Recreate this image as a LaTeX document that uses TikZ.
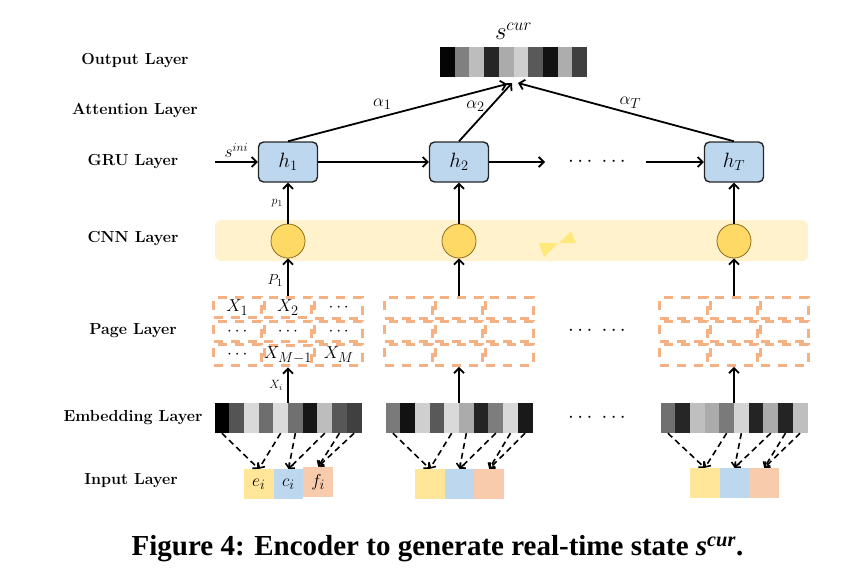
\documentclass[tikz,border=0pt]{standalone}
\usepackage{fontspec}
\newfontfamily\capfont{Liberation Serif}
\usetikzlibrary{matrix,arrows.meta,positioning}
\definecolor{gruBlue}{HTML}{BDD7EE}
\definecolor{cnnBand}{HTML}{FFF2CC}
\definecolor{cnnDot}{HTML}{FFD966}
\definecolor{cnnEdge}{HTML}{8C6D1F}
\definecolor{pageDash}{HTML}{F4B183}
\definecolor{inYellow}{HTML}{FFE699}
\definecolor{inOrange}{HTML}{F8CBAD}
\definecolor{spark}{HTML}{FFE97A}
\tikzset{
	layer/.style = { font=\fontsize{16}{19}\selectfont\bfseries },
	hbox/.style = { draw=black!85, line width=1.4pt, fill=gruBlue, rounded corners=5pt, minimum width=59pt, minimum height=40pt, font=\fontsize{20}{24}\selectfont },
	cnn/.style = { circle, draw=cnnEdge, line width=0.8pt, fill=cnnDot, minimum size=34pt, inner sep=0pt },
	cell/.style = { draw=pageDash, line width=3pt, dash pattern=on 9pt off 8pt, minimum width=47.5pt, minimum height=20.5pt, inner sep=0pt, font=\fontsize{19}{22}\selectfont },
	bar/.style = { minimum width=14.7pt, minimum height=30pt, inner sep=0pt },
	inbox/.style = { minimum width=29.7pt, minimum height=30pt, inner sep=0pt, font=\fontsize{19}{22}\selectfont },
	arrow/.style = { line width=1.8pt, color=black, ->, >={Straight Barb[length=5pt,width=10pt]} },
	link/.style = { line width=1.6pt, ->, >={Straight Barb[length=4pt,width=8pt]}, dash pattern=on 6pt off 4pt },
	lbl/.style = { font=\fontsize{19}{22}\selectfont },
	sml/.style = { font=\fontsize{13}{15}\selectfont },
	dots/.style = { font=\fontsize{21}{24}\selectfont },
}

\begin{document}
\begin{tikzpicture}[x=1pt,y=-1pt]
\useasboundingbox (0,0) rectangle (849,573);

% layer names
\node[layer] (lOut) at (135,61) {Output Layer};
\node[layer] (lAtt) at (135,110) {Attention Layer};
\node[layer] (lGru) at (133,162) {GRU Layer};
\node[layer] (lCnn) at (133,239) {CNN Layer};
\node[layer] (lPage) at (133,331) {Page Layer};
\node[layer] (lEmb) at (133,418) {Embedding Layer};
\node[layer] (lIn) at (131,481) {Input Layer};

% output
\matrix (out)
[
matrix of nodes,
nodes           = { bar },
column sep      = 0pt,
inner sep       = 0pt,
] at (513.5,62)
{
	|[fill=black!98]| & |[fill=black!50]| & |[fill=black!26]| & |[fill=black!85]| & |[fill=black!33]| & |[fill=black!19]| & |[fill=black!65]| & |[fill=black!93]| & |[fill=black!32]| & |[fill=black!75]| \\
};
\node[above=4pt of out, font=\fontsize{26}{30}\selectfont] (scur) {$s^{cur}$};

% GRU
\node[hbox] (h1) at (288,162) {$h_1$};
\node[hbox] (h2) at (459,162) {$h_2$};
\node[hbox] (hT) at (734,162) {$h_T$};
\node[dots] (gdots) at (597,162) {$\cdots\;\cdots$};
\coordinate (gin) at (215,162);
\coordinate (gout) at (545,162);
\coordinate (gback) at (646,162);
\draw[arrow] (gin) -- node[above, font=\fontsize{17}{20}\selectfont] {$s^{ini}$} (h1);
\draw[arrow] (h1) -- (h2);
\draw[arrow] (h2) -- (gout);
\draw[arrow] (gback) -- (hT);

% attention
\coordinate (att1) at (507,84);
\coordinate (att2) at (512,83);
\coordinate (attT) at (518,83);
\draw[arrow] (h1.north) -- node[pos=0.43, above=3pt, lbl] {$\alpha_1$} (att1);
\draw[arrow] (h2.north) -- node[pos=0.6, left=2pt, lbl] {$\alpha_2$} (att2);
\draw[arrow] (hT.north) -- node[pos=0.48, above=1pt, lbl] {$\alpha_T$} (attT);

% CNN
\node[fill=cnnBand, rounded corners=6pt, minimum width=593pt, minimum height=41pt] (band) at (511.5,240.5) {};
\node[cnn] (c1) at (288,241) {};
\node[cnn] (c2) at (459,241) {};
\node[cnn] (c3) at (734,241) {};
\fill[spark] (539,243) -- (558,243) -- (544,257) -- cycle;
\fill[spark] (559,243) -- (571,231) -- (576,243) -- cycle;
\draw[arrow] (c1) -- node[left=1pt, sml] {$p_1$} (h1);
\draw[arrow] (c2) -- (h2);
\draw[arrow] (c3) -- (hT);

% page
\matrix (pg1)
[
matrix of math nodes,
nodes           = { cell },
nodes in empty cells,
column sep      = 0pt,
row sep         = 0pt,
inner sep       = 0pt,
] at (288,331.5)
{
	X_1 & X_2 & \cdots \\
	\cdots & \cdots & \cdots \\
	\cdots & X_{M-1} & X_M \\
};
\matrix (pg2)
[
matrix of math nodes,
nodes           = { cell },
nodes in empty cells,
column sep      = 0pt,
row sep         = 0pt,
inner sep       = 0pt,
] at (459,331.5)
{
	& & \\
	& & \\
	& & \\
};
\matrix (pg3)
[
matrix of math nodes,
nodes           = { cell },
nodes in empty cells,
column sep      = 0pt,
row sep         = 0pt,
inner sep       = 0pt,
] at (734,331.5)
{
	& & \\
	& & \\
	& & \\
};
\node[dots] (pdots) at (597,331) {$\cdots\;\cdots$};
\draw[arrow] (pg1) -- node[pos=0.4, left=1pt, font=\fontsize{15}{18}\selectfont] {$P_1$} (c1);
\draw[arrow] (pg2) -- (c2);
\draw[arrow] (pg3) -- (c3);

% embedding
\matrix (emb1)
[
matrix of nodes,
nodes           = { bar },
nodes in empty cells,
column sep      = 0pt,
inner sep       = 0pt,
] at (288,418)
{
	|[fill=black]| & |[fill=black!67]| & |[fill=black!15]| & |[fill=black!57]| & |[fill=black!14]| & |[fill=black!56]| & |[fill=black!91]| & |[fill=black!26]| & |[fill=black!66]| & |[fill=black!75]| \\
};
\matrix (emb2)
[
matrix of nodes,
nodes           = { bar },
nodes in empty cells,
column sep      = 0pt,
inner sep       = 0pt,
] at (459,418)
{
	|[fill=black!52]| & |[fill=black!93]| & |[fill=black!19]| & |[fill=black!65]| & |[fill=black!15]| & |[fill=black!33]| & |[fill=black!86]| & |[fill=black!51]| & |[fill=black!15]| & |[fill=black!90]| \\
};
\matrix (emb3)
[
matrix of nodes,
nodes           = { bar },
nodes in empty cells,
column sep      = 0pt,
inner sep       = 0pt,
] at (734,418)
{
	|[fill=black!56]| & |[fill=black!85]| & |[fill=black!25]| & |[fill=black!33]| & |[fill=black!52]| & |[fill=black!17]| & |[fill=black!86]| & |[fill=black!33]| & |[fill=black!86]| & |[fill=black!25]| \\
};
\node[dots] (edots) at (597,418) {$\cdots\;\cdots$};
\draw[arrow] (emb1) -- node[left=1pt, sml] {$X_i$} (pg1);
\draw[arrow] (emb2) -- (pg2);
\draw[arrow] (emb3) -- (pg3);

% input
\matrix (in1)
[
matrix of math nodes,
nodes           = { inbox },
column sep      = 0pt,
inner sep       = 0pt,
] at (288.5,483)
{
	|[fill=inYellow]| e_i & |[fill=gruBlue]| c_i & |[fill=inOrange]| f_i \\
};
\matrix (in2)
[
matrix of nodes,
nodes           = { inbox },
nodes in empty cells,
column sep      = 0pt,
inner sep       = 0pt,
] at (459.5,484)
{
	|[fill=inYellow]| & |[fill=gruBlue]| & |[fill=inOrange]| \\
};
\matrix (in3)
[
matrix of nodes,
nodes           = { inbox },
nodes in empty cells,
column sep      = 0pt,
inner sep       = 0pt,
] at (734.5,483)
{
	|[fill=inYellow]| & |[fill=gruBlue]| & |[fill=inOrange]| \\
};

% embedding lookups
\draw[link] (emb1-1-1.south) -- (in1-1-1.north);
\draw[link] (emb1-1-5.south) -- (in1-1-1.north);
\draw[link] (emb1-1-6.south) -- (in1-1-2.north);
\draw[link] (emb1-1-8.south) -- (in1-1-2.north);
\draw[link] (emb1-1-9.south) -- (in1-1-3.north);
\draw[link] (emb1-1-10.south) -- (in1-1-3.north);
\draw[link] (emb2-1-1.south) -- (in2-1-1.north);
\draw[link] (emb2-1-5.south) -- (in2-1-1.north);
\draw[link] (emb2-1-6.south) -- (in2-1-2.north);
\draw[link] (emb2-1-8.south) -- (in2-1-2.north);
\draw[link] (emb2-1-9.south) -- (in2-1-3.north);
\draw[link] (emb2-1-10.south) -- (in2-1-3.north);
\draw[link] (emb3-1-1.south) -- (in3-1-1.north);
\draw[link] (emb3-1-5.south) -- (in3-1-1.north);
\draw[link] (emb3-1-6.south) -- (in3-1-2.north);
\draw[link] (emb3-1-8.south) -- (in3-1-2.north);
\draw[link] (emb3-1-9.south) -- (in3-1-3.north);
\draw[link] (emb3-1-10.south) -- (in3-1-3.north);

% caption
\node[font=\capfont\bfseries\fontsize{29}{33}\selectfont] (cap) at (437.5,549) {Figure 4: Encoder to generate real-time state \textit{s}\textsuperscript{\textit{cur}}.};
\end{tikzpicture}
\end{document}
